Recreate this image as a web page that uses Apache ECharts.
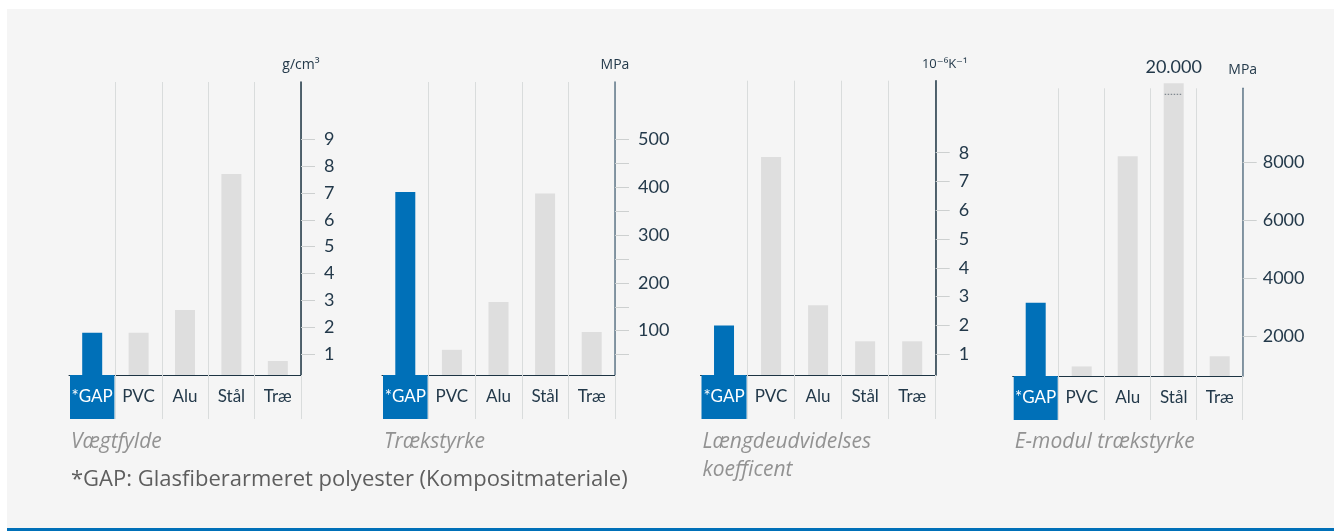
<!DOCTYPE html>
<html>
<head>
<meta charset="utf-8">
<script src="https://cdn.jsdelivr.net/npm/echarts@6/dist/echarts.min.js"></script>
<style>
  html, body { margin: 0; padding: 0; background: #ffffff; }
  #wrap { position: relative; width: 1341px; height: 531px; overflow: hidden; }
  #panel { position: absolute; left: 7px; top: 9px; width: 1327px; height: 519px; background: #f5f5f5; }
  #rule { position: absolute; left: 7px; top: 528px; width: 1327px; height: 4px; background: #0070b8; }
  #chart { position: absolute; left: 0; top: 0; width: 1341px; height: 531px; }
</style>
</head>
<body>
<div id="wrap">
  <div id="panel"></div>
  <div id="rule"></div>
  <div id="chart"></div>
</div>
<script>
// ---- data ----
const categories = ['*GAP', 'PVC', 'Alu', 'Stål', 'Træ'];
const density = [1.8, 1.8, 2.65, 7.7, 0.75];            // g/cm³
const tensile = [390, 60, 160, 387, 97];                 // MPa
const expansion = [2.0, 7.85, 2.7, 1.45, 1.45];          // 10⁻⁶K⁻¹
const eModul = [3150, 950, 8200, 20000, 1300];           // MPa
const densityTicks = [1, 2, 3, 4, 5, 6, 7, 8, 9];
const tensileTicks = [50, 100, 150, 200, 250, 300, 350, 400, 450, 500];
const tensileLabels = [100, 200, 300, 400, 500];
const expansionTicks = [1, 2, 3, 4, 5, 6, 7, 8];
const eModulTicks = [2000, 4000, 6000, 8000];
const panelTitles = ['Vægtfylde', 'Trækstyrke', 'Længdeudvidelses\nkoefficent', 'E-modul trækstyrke'];
const unitNames = ['g/cm³', 'MPa', '10⁻⁶K⁻¹', 'MPa'];
const footnote = '*GAP: Glasfiberarmeret polyester (Kompositmateriale)';
// broken-bar display for values beyond the E-modul axis
const E_CAP = 10714;
const E_BREAK = 10334;

// ---- style ----
const FONT = 'Lato, "Open Sans", "DejaVu Sans", sans-serif';
const FONT2 = '"Open Sans", "DejaVu Sans", sans-serif';
const BLUE = '#0070b8';
const GREY_BAR = '#dedede';
const DIV = '#d9dcdc';
const DARK = '#1d3443';
const TXT = '#23394a';

const panels = [
  { grid: { left: 69, top: 82, width: 232, height: 293 }, min: 0.23, max: 11.12,
    ticks: densityTicks, labels: densityTicks, data: density, axisColor: DARK, margin: 23, nameGap: 10, nameSize: 14 },
  { grid: { left: 382, top: 82, width: 233, height: 293 }, min: 7.3, max: 620,
    ticks: tensileTicks, labels: tensileLabels, data: tensile, axisColor: '#60788a', margin: 23, nameGap: 10, nameSize: 14 },
  { grid: { left: 700.5, top: 80.7, width: 235.2, height: 294.3 }, min: 0.28, max: 10.5,
    ticks: expansionTicks, labels: expansionTicks, data: expansion, axisColor: DARK, margin: 23, nameGap: 10, nameSize: 13, namePad: 18 },
  { grid: { left: 1012.7, top: 88.3, width: 230, height: 287.7 }, min: 620, max: 10541,
    ticks: eModulTicks, labels: eModulTicks, data: eModul, axisColor: '#60788a', margin: 20, nameGap: 11, nameSize: 14, cap: E_CAP }
];

function fmtThousands(v) {
  return String(v).replace(/\B(?=(\d{3})+(?!\d))/g, '.');
}

const option = {
  backgroundColor: 'transparent',
  animation: false,
  textStyle: { fontFamily: FONT },
  title: [],
  grid: [], xAxis: [], yAxis: [], series: []
};

panels.forEach((p, k) => {
  const catW = p.grid.width / categories.length;
  option.grid.push(Object.assign({ containLabel: false }, p.grid));
  option.xAxis.push({
    type: 'category', gridIndex: k, data: categories, boundaryGap: true,
    axisLine: { show: true, lineStyle: { color: DARK, width: 1 } },
    axisTick: { show: true, length: 44, interval: (i) => i > 0, lineStyle: { color: DIV, width: 1 } },
    splitLine: { show: true, interval: (i) => i > 0, lineStyle: { color: DIV, width: 1 } },
    axisLabel: {
      interval: 0, margin: 0,
      formatter: (v, i) => (i === 0 ? '{hl|' + v + '}' : '{n|' + v + '}'),
      rich: {
        hl: { backgroundColor: BLUE, color: '#ffffff', width: catW - 2, height: 44, lineHeight: 44,
              align: 'center', fontSize: 17, fontFamily: FONT },
        n: { color: TXT, height: 44, lineHeight: 44, fontSize: 17, fontFamily: FONT }
      }
    }
  });
  option.yAxis.push({
    type: 'value', gridIndex: k, position: 'right', min: p.min, max: p.max, startValue: p.min,
    name: unitNames[k], nameLocation: 'end', nameGap: p.nameGap,
    nameTextStyle: { color: TXT, fontSize: p.nameSize, fontFamily: FONT2, align: 'center',
                     padding: p.namePad ? [0, 0, 0, p.namePad] : 0 },
    axisLine: { show: true, onZero: false, lineStyle: { color: p.axisColor, width: 1.5 } },
    axisTick: { show: true, length: 14, customValues: p.ticks, lineStyle: { color: '#cdd0d0', width: 1 } },
    axisLabel: { show: true, customValues: p.labels, margin: p.margin, color: TXT, fontSize: 18,
                 fontFamily: FONT, formatter: (v) => String(v) },
    splitLine: { show: false }
  });
  const seriesData = p.data.map((v, i) => {
    const item = { value: p.cap ? Math.min(v, p.cap) : v, itemStyle: { color: i === 0 ? BLUE : GREY_BAR } };
    if (p.cap && v > p.cap) {
      item.label = { show: true, position: 'top', distance: 7, formatter: fmtThousands(v),
                     color: TXT, fontSize: 18, fontFamily: FONT };
    }
    return item;
  });
  option.series.push({
    type: 'bar', xAxisIndex: k, yAxisIndex: k, data: seriesData, barWidth: 20,
    clip: !p.cap, label: { show: false }
  });
  if (p.cap) {
    const breaks = p.data.map((v, i) => (v > p.cap ? [i, E_BREAK] : null)).filter(Boolean);
    option.series.push({
      type: 'custom', xAxisIndex: k, yAxisIndex: k, data: breaks, z: 5,
      encode: { x: 0, y: 1 },
      renderItem: (params, api) => {
        const c = api.coord([api.value(0), api.value(1)]);
        return {
          type: 'line',
          shape: { x1: c[0] - 9, y1: c[1], x2: c[0] + 9, y2: c[1] },
          style: { stroke: '#6a747c', lineWidth: 1, lineDash: [1.5, 1.5] }
        };
      }
    });
  }
  option.title.push({
    text: panelTitles[k], left: p.grid.left + 2, top: 428, padding: 0,
    textStyle: { color: '#929292', fontStyle: 'italic', fontWeight: 'normal', fontSize: 21,
                 lineHeight: 28, fontFamily: FONT2 }
  });
});

option.title.push({
  text: footnote, left: 71, top: 467, padding: 0,
  textStyle: { color: '#5e5e5e', fontWeight: 'normal', fontSize: 22, lineHeight: 26, fontFamily: FONT2 }
});

const chart = echarts.init(document.getElementById('chart'), null, { renderer: 'canvas' });
chart.setOption(option);
</script>
</body>
</html>
